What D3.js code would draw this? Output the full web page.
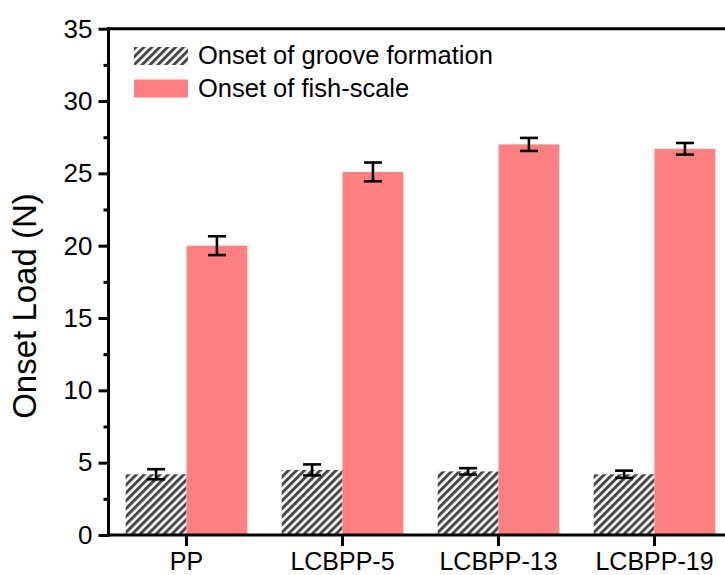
<!DOCTYPE html>
<html>
<head>
<meta charset="utf-8">
<script src="https://cdn.jsdelivr.net/npm/d3@7"></script>
<style>
  html, body { margin: 0; padding: 0; background: #fff; }
  svg { display: block; font-family: "Liberation Sans", Arial, sans-serif; }
</style>
</head>
<body>
<svg id="chart" width="725" height="575"></svg>
<script>
// ---- data ----
const categories = ["PP", "LCBPP-5", "LCBPP-13", "LCBPP-19"];
const seriesNames = ["Onset of groove formation", "Onset of fish-scale"];
const grooveValues = [4.2, 4.5, 4.4, 4.2];
const grooveErrors = [0.35, 0.38, 0.22, 0.25];
const fishValues = [20.0, 25.1, 27.0, 26.7];
const fishErrors = [0.65, 0.65, 0.45, 0.4];
const yTicks = [0, 5, 10, 15, 20, 25, 30, 35];
const yMinorTicks = [2.5, 7.5, 12.5, 17.5, 22.5, 27.5, 32.5];
const yTitle = "Onset Load (N)";

const seriesKeys = ["groove", "fish"];
const rows = categories.map((c, i) => ({
  cat: c,
  groove: { v: grooveValues[i], e: grooveErrors[i] },
  fish: { v: fishValues[i], e: fishErrors[i] }
}));

// ---- layout ----
const svg = d3.select("#chart");
const pLeft = 108.5, pRight = 732.5, pTop = 28.7, pBottom = 535;

const x0 = d3.scaleBand().domain(categories).range([pLeft, pRight])
  .paddingInner(0.22).paddingOuter(0.11);
const x1 = d3.scaleBand().domain(seriesKeys).range([0, x0.bandwidth()]).padding(0);
const y = d3.scaleLinear().domain([0, 35]).range([pBottom, pTop]);

// hatch pattern
const defs = svg.append("defs");
const pat = defs.append("pattern")
  .attr("id", "hatch").attr("patternUnits", "userSpaceOnUse")
  .attr("width", 5.6).attr("height", 5.6)
  .attr("patternTransform", "rotate(45)");
pat.append("rect").attr("width", 5.6).attr("height", 5.6).attr("fill", "#ffffff");
pat.append("rect").attr("width", 3).attr("height", 5.6).attr("fill", "#484848");

const fills = { groove: "url(#hatch)", fish: "#ff8080" };

// bars
const g = svg.append("g");
const groups = g.selectAll("g.grp").data(rows).join("g")
  .attr("class", "grp")
  .attr("transform", d => `translate(${x0(d.cat)},0)`);

groups.selectAll("rect").data(d => seriesKeys.map(k => ({ k, ...d[k] }))).join("rect")
  .attr("x", d => x1(d.k))
  .attr("width", x1.bandwidth())
  .attr("y", d => y(d.v))
  .attr("height", d => y(0) - y(d.v))
  .attr("fill", d => fills[d.k]);

// error bars
const capW = 9;
const eb = groups.selectAll("g.err").data(d => seriesKeys.map(k => ({ k, ...d[k] }))).join("g")
  .attr("class", "err")
  .attr("stroke", "#000").attr("stroke-width", 2.6).attr("fill", "none");
eb.append("line")
  .attr("x1", d => x1(d.k) + x1.bandwidth() / 2).attr("x2", d => x1(d.k) + x1.bandwidth() / 2)
  .attr("y1", d => y(d.v - d.e)).attr("y2", d => y(d.v + d.e));
eb.append("line")
  .attr("x1", d => x1(d.k) + x1.bandwidth() / 2 - capW).attr("x2", d => x1(d.k) + x1.bandwidth() / 2 + capW)
  .attr("y1", d => y(d.v + d.e)).attr("y2", d => y(d.v + d.e));
eb.append("line")
  .attr("x1", d => x1(d.k) + x1.bandwidth() / 2 - capW).attr("x2", d => x1(d.k) + x1.bandwidth() / 2 + capW)
  .attr("y1", d => y(d.v - d.e)).attr("y2", d => y(d.v - d.e));

// axes
const axisStroke = 3;
const yAxis = svg.append("g").attr("transform", `translate(${pLeft},0)`)
  .call(d3.axisLeft(y).tickValues(yTicks).tickSize(10).tickPadding(6).tickFormat(d3.format("d")));
const yMinor = svg.append("g").attr("transform", `translate(${pLeft},0)`)
  .call(d3.axisLeft(y).tickValues(yMinorTicks).tickSize(5).tickFormat(""));
const xAxis = svg.append("g").attr("transform", `translate(0,${pBottom})`)
  .call(d3.axisBottom(x0).tickSize(11).tickPadding(6));
const topLine = svg.append("g").attr("transform", `translate(0,${pTop})`)
  .call(d3.axisTop(x0).tickSize(0).tickFormat(""));

[yAxis, yMinor, xAxis, topLine].forEach(a => {
  a.select(".domain").attr("stroke", "#000").attr("stroke-width", axisStroke);
  a.selectAll(".tick line").attr("stroke", "#000").attr("stroke-width", axisStroke);
  a.selectAll("text").attr("fill", "#000");
});
yAxis.selectAll("text").attr("font-size", 26);
xAxis.selectAll("text").attr("font-size", 25);
topLine.selectAll(".tick").remove();
// frame lines across full extent
yAxis.select(".domain").attr("d", `M0,${pBottom + 1.5}V${pTop - 1.5}`);
yMinor.select(".domain").remove();
xAxis.select(".domain").attr("d", `M${pLeft - 1.5},0H${pRight}`);
topLine.select(".domain").attr("d", `M${pLeft - 1.5},0H${pRight}`);

// y title
svg.append("text")
  .attr("transform", "translate(36,306) rotate(-90)")
  .attr("text-anchor", "middle")
  .attr("font-size", 33)
  .attr("fill", "#000")
  .text(yTitle);

// legend
const legend = svg.append("g").attr("transform", "translate(134,47)");
const li = legend.selectAll("g").data(seriesKeys).join("g")
  .attr("transform", (d, i) => `translate(0,${i * 32.5})`);
li.append("rect").attr("width", 54).attr("height", 18).attr("fill", d => fills[d]);
li.append("text").attr("x", 64).attr("y", 17).attr("font-size", 25.5).attr("fill", "#000")
  .text((d, i) => seriesNames[i]);
</script>
</body>
</html>
